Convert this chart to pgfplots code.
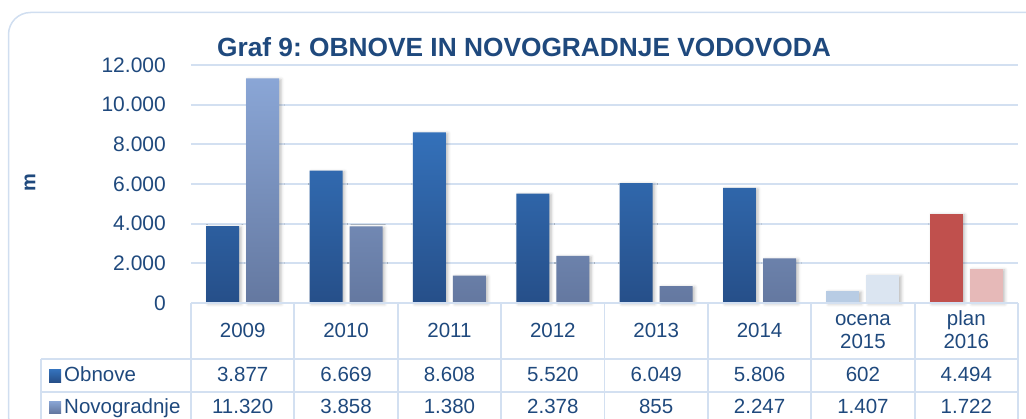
\documentclass[border=0pt]{standalone}
\usepackage{pgfplots}
\pgfplotsset{compat=1.18}
\usepackage{fontspec}
\setmainfont{Liberation Sans}
\frenchspacing
\usetikzlibrary{shadows.blur}
\definecolor{txt}{RGB}{31,73,125}
\definecolor{gridc}{RGB}{211,224,241}
\definecolor{obtop}{RGB}{52,113,186}
\definecolor{obbot}{RGB}{38,79,137}
\definecolor{notop}{RGB}{138,166,214}
\definecolor{nobot}{RGB}{100,120,160}
\definecolor{obA}{RGB}{184,204,228}
\definecolor{noA}{RGB}{219,229,241}
\definecolor{obB}{RGB}{192,80,77}
\definecolor{noB}{RGB}{230,185,184}
\definecolor{framec}{RGB}{208,222,240}

\pgfplotstableread{
x obnove novo
0 3877 11320
1 6669 3858
2 8608 1380
3 5520 2378
4 6049 855
5 5806 2247
}\main

\begin{document}
\begin{tikzpicture}[x=1pt,y=1pt]
\useasboundingbox (0,0) rectangle (1026,418);
\clip (0,0) rectangle (1026,418);
% outer frame
\draw[framec, line width=1.5pt, rounded corners=22pt] (8.5,405.5) rectangle (1050,-20);

\begin{axis}[
  at={(191pt,115pt)}, anchor=south west,
  scale only axis, width=827pt, height=238pt,
  xmin=-0.5, xmax=7.5, ymin=0, ymax=12000,
  axis line style={draw=none},
  xtick=\empty,
  scaled y ticks=false,
  ytick={0,2000,4000,6000,8000,10000,12000},
  yticklabels={0,2.000,4.000,6.000,8.000,10.000,12.000},
  yticklabel style={font=\fontsize{21}{25}\selectfont, text=txt, inner sep=0pt, xshift=-25pt},
  major tick length=0pt,
  ymajorgrids,
  major grid style={draw=gridc, line width=1.8pt},
  clip=false,
  ybar, bar width=33pt,
]
\addplot[bar shift=-20pt, draw=none, top color=obtop, bottom color=obbot,
  blur shadow={shadow xshift=2pt, shadow yshift=-1pt, shadow blur radius=3pt, shadow opacity=25}]
  table[x=x, y=obnove] {\main};
\addplot[bar shift=20pt, draw=none, top color=notop, bottom color=nobot,
  blur shadow={shadow xshift=2pt, shadow yshift=-1pt, shadow blur radius=3pt, shadow opacity=25}]
  table[x=x, y=novo] {\main};
\addplot[bar shift=-20pt, draw=none, fill=obA,
  blur shadow={shadow xshift=2pt, shadow yshift=-1pt, shadow blur radius=3pt, shadow opacity=25}]
  coordinates {(6,602)};
\addplot[bar shift=20pt, draw=none, fill=noA,
  blur shadow={shadow xshift=2pt, shadow yshift=-1pt, shadow blur radius=3pt, shadow opacity=25}]
  coordinates {(6,1407)};
\addplot[bar shift=-20pt, draw=none, fill=obB,
  blur shadow={shadow xshift=2pt, shadow yshift=-1pt, shadow blur radius=3pt, shadow opacity=25}]
  coordinates {(7,4494)};
\addplot[bar shift=20pt, draw=none, fill=noB,
  blur shadow={shadow xshift=2pt, shadow yshift=-1pt, shadow blur radius=3pt, shadow opacity=25}]
  coordinates {(7,1722)};
\end{axis}

% title
\node[anchor=base, text=txt, font=\fontsize{26.3}{30}\selectfont\bfseries, inner sep=0pt] at (524,361) {Graf 9: OBNOVE IN NOVOGRADNJE VODOVODA};
% y label
\node[rotate=90, text=txt, font=\fontsize{20}{24}\selectfont\bfseries, inner sep=0pt] at (30,235) {m};

% table lines
\begin{scope}[draw=gridc, line width=1.8pt]
\draw (191,115) -- (1018,115);
\draw (41,59) -- (1018,59);
\draw (41,26) -- (1018,26);
\draw (41,59) -- (41,-5);
\foreach \k in {0,...,8} {
  \draw ({191+103.375*\k},115) -- ({191+103.375*\k},-5);
}
\end{scope}

% header row
\begin{scope}[font=\fontsize{20.5}{24}\selectfont, text=txt]
\foreach \k/\lab in {0/2009,1/2010,2/2011,3/2012,4/2013,5/2014} {
  \node[anchor=base, inner sep=0pt] at ({191+103.375*(\k+0.5)},80) {\lab};
}
\node[anchor=base, inner sep=0pt] at ({191+103.375*6.5},92) {ocena};
\node[anchor=base, inner sep=0pt] at ({191+103.375*6.5},69) {2015};
\node[anchor=base, inner sep=0pt] at ({191+103.375*7.5},92) {plan};
\node[anchor=base, inner sep=0pt] at ({191+103.375*7.5},69) {2016};
% values
\foreach \k/\v in {0/3.877,1/6.669,2/8.608,3/5.520,4/6.049,5/5.806,6/602,7/4.494} {
  \node[anchor=base, inner sep=0pt] at ({191+103.375*(\k+0.5)},36) {\v};
}
\foreach \k/\v in {0/11.320,1/3.858,2/1.380,3/2.378,4/855,5/2.247,6/1.407,7/1.722} {
  \node[anchor=base, inner sep=0pt] at ({191+103.375*(\k+0.5)},5) {\v};
}
\node[anchor=base west, inner sep=0pt] at (64,36) {Obnove};
\node[anchor=base west, inner sep=0pt] at (64,5) {Novogradnje};
\end{scope}
\shade[top color=obtop, bottom color=obbot] (49,36) rectangle (61,48);
\shade[top color=notop, bottom color=nobot] (49,5) rectangle (61,17);
\end{tikzpicture}
\end{document}
